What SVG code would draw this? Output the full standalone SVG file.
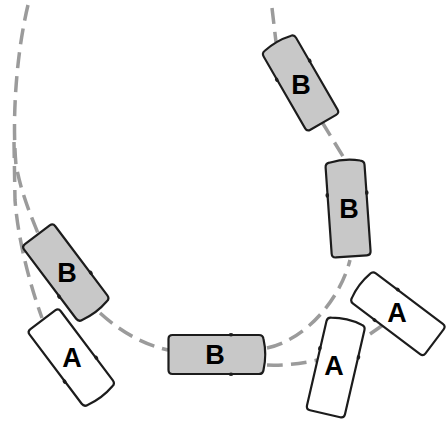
<svg xmlns="http://www.w3.org/2000/svg" width="447" height="423" viewBox="0 0 447 423">
<style>
.bg{fill:#ffffff}
.path{fill:none;stroke:#9b9b9b;stroke-width:3.5;stroke-dasharray:16 8}
.body{stroke:#1c1c1c;stroke-width:2.2;stroke-linejoin:round}
.b use{fill:#c8c8c8}
.a use{fill:#ffffff}
.mirror{fill:#1c1c1c;stroke:none}
.lbl{font-family:"Liberation Sans",Arial,sans-serif;font-weight:bold;font-size:27px;fill:#000;text-anchor:middle}
</style>
<defs>
<g id="car">
<path class="body" d="M -19.5,-42 Q -19.5,-46 -15.5,-46.5 Q 0,-50 15.5,-46.5 Q 19.5,-46 19.5,-42 L 19.5,44.5 Q 19.5,48.5 15.5,48.5 L -15.5,48.5 Q -19.5,48.5 -19.5,44.5 Z"/>
<ellipse class="mirror" cx="-19.8" cy="-14" rx="1.8" ry="2.4"/>
<ellipse class="mirror" cx="19.8" cy="-14" rx="1.8" ry="2.4"/>
</g>
</defs>
<rect class="bg" x="0" y="0" width="447" height="423"/>
<g id="connectors">
<path class="path" d="M 28,5 C 16,55 12,120 16,165 C 21,192 30,214 40,238"/>
<path class="path" d="M 14,142 L 15,200 C 18,240 30,285 42,318"/>
<path class="path" d="M 100,313 Q 132,342 168,350"/>
<path class="path" d="M 267,348 C 305,340 340,300 350,260"/>
<path class="path" d="M 322,122 L 344,158"/>
<path class="path" d="M 272,8 L 276,42"/>
<path class="path" d="M 267,365 Q 290,366 318,360"/>
<path class="path" d="M 370,334 L 383,325" style="stroke-dasharray:none"/>
</g>
<g id="carB1" class="b">
<use href="#car" transform="translate(300,82) rotate(-30) scale(0.96)"/>
<text class="lbl" x="301" y="93.5">B</text>
</g>
<g id="carB2" class="b">
<use href="#car" transform="translate(348,208) rotate(-4)"/>
<text class="lbl" x="349" y="218">B</text>
</g>
<g id="carB3" class="b">
<use href="#car" transform="translate(217,354.5) rotate(90)"/>
<text class="lbl" x="215" y="364">B</text>
</g>
<g id="carB4" class="b">
<use href="#car" transform="translate(66.5,273.5) rotate(143)"/>
<text class="lbl" x="67" y="281.5">B</text>
</g>
<g id="carA1" class="a">
<use href="#car" transform="translate(72,358.5) rotate(143)"/>
<text class="lbl" x="72" y="366.5">A</text>
</g>
<g id="carA2" class="a">
<use href="#car" transform="translate(336,366.5) rotate(13)"/>
<text class="lbl" x="334" y="374.5">A</text>
</g>
<g id="carA3" class="a">
<use href="#car" transform="translate(397,313) rotate(-53) scale(0.97)"/>
<text class="lbl" x="397" y="321.5">A</text>
</g>
</svg>
